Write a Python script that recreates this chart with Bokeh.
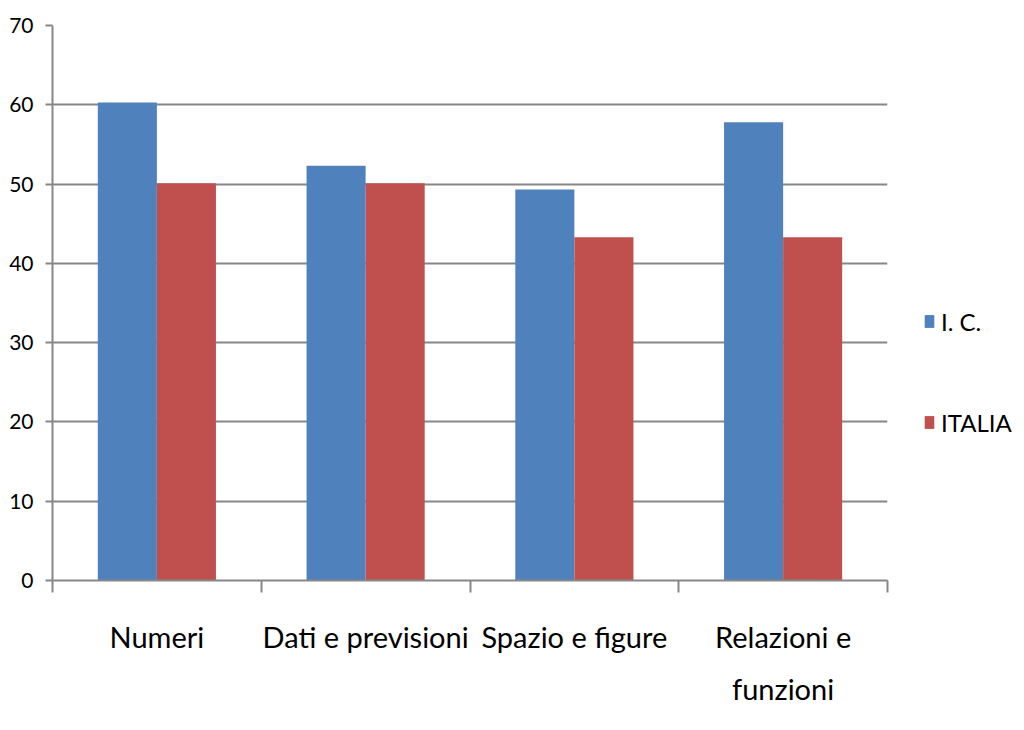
from bokeh.plotting import figure
from bokeh.models import (ColumnDataSource, Range1d, FixedTicker, Legend, LegendItem)
from bokeh.embed import file_html
from bokeh.resources import INLINE

categories = ["Numeri", "Dati e previsioni", "Spazio e figure", "Relazioni e\nfunzioni"]
ic_values = [60.3, 52.3, 49.3, 57.8]
italia_values = [50.1, 50.1, 43.3, 43.3]
series_names = ["I. C.", "ITALIA"]
y_ticks = [0, 10, 20, 30, 40, 50, 60, 70]

BLUE = "#4F81BD"
RED = "#C0504D"
GRID = "#878787"
FONT = "Lato"
BAR_W = 0.283

idx = list(range(len(categories)))
src = ColumnDataSource(dict(
    x_ic=[i + 0.5 - BAR_W / 2 for i in idx],
    x_it=[i + 0.5 + BAR_W / 2 for i in idx],
    ic=ic_values,
    it=italia_values,
))

p = figure(width=1024, height=730, frame_width=835, frame_height=555,
           min_border_left=52, min_border_right=137, min_border_top=25, min_border_bottom=150,
           x_range=Range1d(0, len(categories)), y_range=Range1d(0, 70),
           output_backend="svg", toolbar_location=None, tools="")
p.outline_line_color = None
p.background_fill_color = "white"
p.border_fill_color = "white"

r1 = p.vbar(x="x_ic", top="ic", width=BAR_W, source=src, fill_color=BLUE, line_color=None)
r2 = p.vbar(x="x_it", top="it", width=BAR_W, source=src, fill_color=RED, line_color=None)

# y axis
p.yaxis.ticker = FixedTicker(ticks=y_ticks)
p.yaxis.axis_line_color = GRID
p.yaxis.axis_line_width = 2
p.yaxis.major_tick_line_color = GRID
p.yaxis.major_tick_line_width = 2
p.yaxis.major_tick_out = 7
p.yaxis.major_tick_in = 0
p.yaxis.minor_tick_line_color = None
p.yaxis.major_label_standoff = 12
p.yaxis.major_label_text_font = FONT
p.yaxis.major_label_text_font_size = "21px"
p.yaxis.major_label_text_color = "#000000"

# x axis
p.xaxis.ticker = FixedTicker(ticks=[i + 0.5 for i in idx], minor_ticks=list(range(len(categories) + 1)))
p.xaxis.major_label_overrides = {i + 0.5: c for i, c in zip(idx, categories)}
p.xaxis.axis_line_color = GRID
p.xaxis.axis_line_width = 2
p.xaxis.major_tick_line_color = None
p.xaxis.major_tick_out = 0
p.xaxis.major_tick_in = 0
p.xaxis.minor_tick_line_color = GRID
p.xaxis.minor_tick_line_width = 2
p.xaxis.minor_tick_out = 12
p.xaxis.minor_tick_in = 0
p.xaxis.major_label_standoff = 26
p.xaxis.major_label_text_font = FONT
p.xaxis.major_label_text_font_size = "29px"
p.xaxis.major_label_text_color = "#000000"
p.xaxis.major_label_text_line_height = 1.5

p.xgrid.grid_line_color = None
p.ygrid.grid_line_color = GRID
p.ygrid.grid_line_width = 2
p.ygrid.ticker = FixedTicker(ticks=y_ticks)

legend = Legend(items=[LegendItem(label=series_names[0], renderers=[r1]),
                       LegendItem(label=series_names[1], renderers=[r2])],
                location=(36, 143), orientation="vertical",
                glyph_width=12, glyph_height=16, label_standoff=6,
                spacing=71, padding=0, margin=0,
                border_line_color=None, background_fill_alpha=0,
                label_text_font=FONT, label_text_font_size="24px", label_text_color="#000000",
                label_height=30)
p.add_layout(legend, "right")

open("out.html", "w").write(file_html(p, INLINE))
